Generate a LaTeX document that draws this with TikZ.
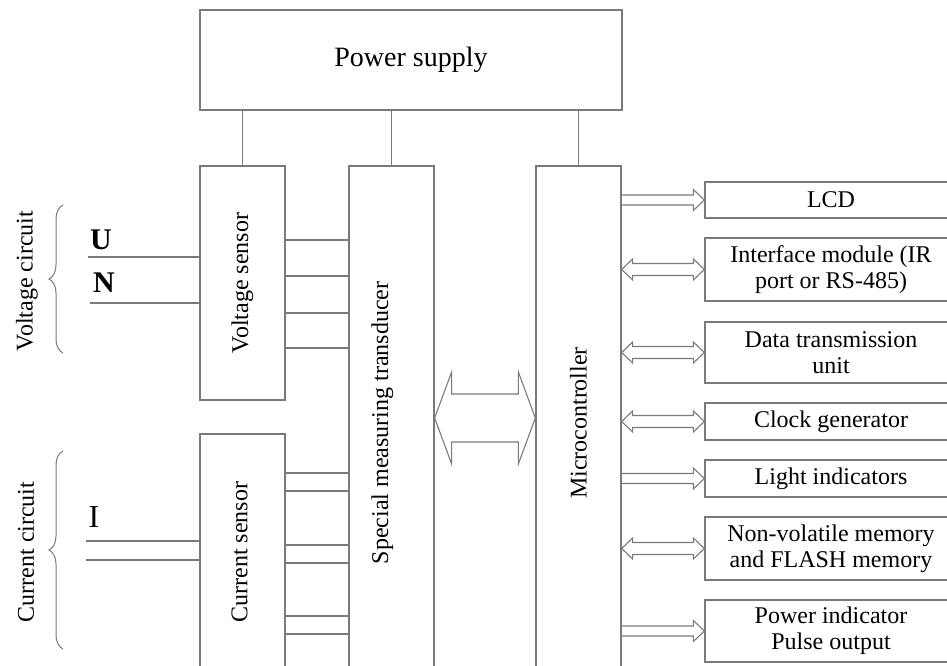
\documentclass[tikz,border=0pt]{standalone}
\usepackage{fontspec}
\setmainfont{Liberation Serif}
\usetikzlibrary{positioning,calc,decorations.pathreplacing}
\definecolor{linegray}{HTML}{7A7A7A}

\tikzset{
  box/.style={draw=linegray, line width=1.3pt, inner sep=0pt, align=center,
    font=\fontsize{24}{26}\selectfont},
  wire/.style={draw=linegray, line width=1.3pt},
  vlabel/.style={rotate=90, inner sep=0pt, font=\fontsize{24}{26}\selectfont},
  pin/.style={inner sep=0pt, font=\fontsize{32}{32}\selectfont},
}

% hollow arrows: from, to, shaft half width, head half width, head length
\newcommand\twoway[5]{%
  \draw[wire, line width=1.1pt, line join=miter] let \p1=(#1), \p2=(#2) in
    (\x1,\y1) -- (\x1+#5pt,\y1+#4pt) -- (\x1+#5pt,\y1+#3pt) -- (\x2-#5pt,\y1+#3pt)
    -- (\x2-#5pt,\y1+#4pt) -- (\x2,\y1) -- (\x2-#5pt,\y1-#4pt) -- (\x2-#5pt,\y1-#3pt)
    -- (\x1+#5pt,\y1-#3pt) -- (\x1+#5pt,\y1-#4pt) -- cycle;}
\newcommand\oneway[2]{%
  \draw[wire, line width=1.1pt, line join=miter] let \p1=(#1), \p2=(#2) in
    (\x1,\y1+5pt) -- (\x2-11pt,\y1+5pt) -- (\x2-11pt,\y1+10.5pt) -- (\x2,\y1)
    -- (\x2-11pt,\y1-10.5pt) -- (\x2-11pt,\y1-5pt) -- (\x1,\y1-5pt);}

\begin{document}
\begin{tikzpicture}[x=1pt, y=-1pt]
  \useasboundingbox (0,0) rectangle (947,666);
  \clip (0,0) rectangle (947,666);

  % main blocks
  \node[box, minimum width=422, minimum height=100, font=\fontsize{28}{30}\selectfont]
    (power) at (411,60) {Power supply};
  \node[box, minimum width=85, minimum height=234,
    label={[vlabel]center:Voltage sensor}] (vs) at (242.5,283) {};
  \node[box, minimum width=85, minimum height=236,
    label={[xshift=-3pt, vlabel]center:Current sensor}] (cs) at (242.5,552) {};
  \node[box, minimum width=85, minimum height=514,
    label={[xshift=-9pt, vlabel]center:Special measuring transducer}] (trans) at (391.5,423) {};
  \node[box, minimum width=85, minimum height=514,
    label={[vlabel]center:Microcontroller}] (mcu) at (578.5,423) {};

  % peripherals
  \node[box, minimum width=252, minimum height=36] (lcd) at (831,200) {LCD};
  \node[box, minimum width=252, minimum height=63] (iface) at (831,269.5) {Interface module (IR\\port or RS-485)};
  \node[box, minimum width=252, minimum height=61] (data) at (831,352.5) {Data transmission\\unit};
  \node[box, minimum width=252, minimum height=37] (clock) at (831,421.5) {Clock generator};
  \node[box, minimum width=252, minimum height=37] (light) at (831,478.5) {Light indicators};
  \node[box, minimum width=252, minimum height=63] (mem) at (831,548.5) {Non-volatile memory\\and FLASH memory};
  \node[box, minimum width=252, minimum height=62] (pulse) at (831,631) {Power indicator\\Pulse output};

  % power rails
  \foreach \blk in {vs,trans,mcu}
    \draw[wire] (power.south -| \blk.north) -- (\blk.north);

  % sensor outputs
  \foreach \yy in {240,276,313,348}
    \draw[wire] (vs.east |- 0,\yy) -- (trans.west |- 0,\yy);
  \foreach \yy in {473,491,545,563,616,634}
    \draw[wire] (cs.east |- 0,\yy) -- (trans.west |- 0,\yy);

  % inputs
  \coordinate (u) at (88,257);
  \coordinate (n) at (90,303);
  \coordinate (i1) at (86,541);
  \coordinate (i2) at (86,560);
  \draw[wire] (u) -- (u -| vs.west);
  \draw[wire] (n) -- (n -| vs.west);
  \draw[wire] (i1) -- (i1 -| cs.west);
  \draw[wire] (i2) -- (i2 -| cs.west);
  \node[pin, font=\fontsize{30}{30}\selectfont\bfseries] (ulbl) at (101,240) {U};
  \node[pin, font=\fontsize{30}{30}\selectfont\bfseries] (nlbl) at (104,283) {N};
  \node[pin] (ilbl) at (94,517) {I};

  % circuit braces
  \draw[wire, line width=1pt, decorate, decoration={brace, amplitude=14pt}] (63,353) -- (63,205);
  \draw[wire, line width=1pt, decorate, decoration={brace, amplitude=14pt}] (63,649) -- (63,451);
  \node[vlabel] (vcirc) at (27,281) {Voltage circuit};
  \node[vlabel] (ccirc) at (26,552) {Current circuit};

  % data buses
  \twoway{trans.east |- 0,418}{mcu.west}{24}{46}{17}
  \oneway{mcu.east |- lcd.west}{lcd.west}
  \twoway{mcu.east |- iface.west}{iface.west}{6}{10.5}{11}
  \twoway{mcu.east |- data.west}{data.west}{6}{10.5}{11}
  \twoway{mcu.east |- clock.west}{clock.west}{6}{10.5}{11}
  \oneway{mcu.east |- light.west}{light.west}
  \twoway{mcu.east |- mem.west}{mem.west}{6}{10.5}{11}
  \oneway{mcu.east |- pulse.west}{pulse.west}
\end{tikzpicture}
\end{document}
